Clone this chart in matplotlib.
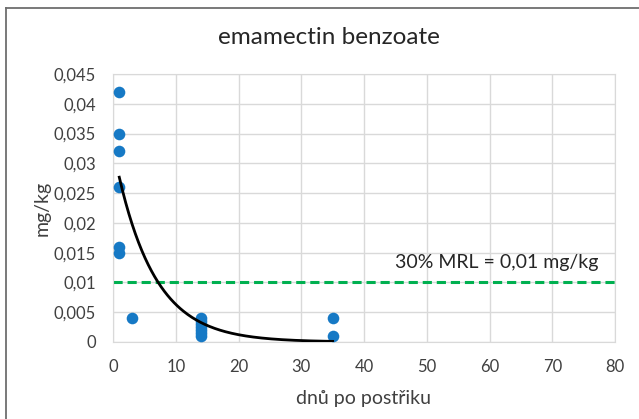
import numpy as np
import matplotlib
matplotlib.use("Agg")
import matplotlib.pyplot as plt
from matplotlib.lines import Line2D

plt.rcParams['font.family'] = ['Lato', 'DejaVu Sans']

# data
days = [1, 1, 1, 1, 1, 1, 3, 14, 14, 14, 14, 14, 14, 14, 35, 35]
residues = [0.042, 0.035, 0.032, 0.026, 0.016, 0.015, 0.004,
            0.004, 0.0035, 0.003, 0.0025, 0.002, 0.0015, 0.001,
            0.004, 0.001]
# exponential trend parameters (y = a * exp(-k x))
trend_a = 0.0326
trend_k = 0.164
trend_range = [1, 35]
mrl_limit = 0.01
mrl_label = "30% MRL = 0,01 mg/kg"
title = "emamectin benzoate"
xlabel = "dnů po postřiku"
ylabel = "mg/kg"
yticks = [0, 0.005, 0.01, 0.015, 0.02, 0.025, 0.03, 0.035, 0.04, 0.045]
ytick_labels = ["0", "0,005", "0,01", "0,015", "0,02", "0,025", "0,03", "0,035", "0,04", "0,045"]
xticks = [0, 10, 20, 30, 40, 50, 60, 70, 80]

fig = plt.figure(figsize=(6.39, 4.19), dpi=100)
ax = fig.add_axes([113/639, 1-342/419, (615-113)/639, (342-74)/419])

# outer chart border (left and top visible)
fig.lines.append(Line2D([5.5/639, 5.5/639], [0, 1-8/419], transform=fig.transFigure,
                        color='#6E6E6E', linewidth=1.3))
fig.lines.append(Line2D([5.5/639, 1], [1-8/419, 1-8/419], transform=fig.transFigure,
                        color='#6E6E6E', linewidth=1.3))

ax.set_xlim(0, 80)
ax.set_ylim(0, 0.045)
ax.set_xticks(xticks)
ax.set_yticks(yticks)
ax.set_yticklabels(ytick_labels)
ax.grid(True, color='#D9D9D9', linewidth=1.0)
ax.set_axisbelow(True)
for s in ax.spines.values():
    s.set_color('#D9D9D9')
ax.tick_params(length=0, labelsize=12, colors='#404040')
ax.tick_params(axis='y', pad=12.5)
ax.tick_params(axis='x', pad=12)

ax.scatter(days, residues, s=70, color='#1679C5', zorder=3, linewidths=0)

xt = np.linspace(trend_range[0], trend_range[1], 200)
ax.plot(xt, trend_a * np.exp(-trend_k * xt), color='black', linewidth=2, zorder=4)

ax.axhline(mrl_limit, color='#00B050', linestyle=(0, (3, 1.6)), linewidth=2.2, zorder=2)
ax.text(44.9, 0.0133, mrl_label, fontsize=14, color='#262626', va='center', ha='left')

fig.text(329/639, 1-38/419, title, fontsize=17.5, color='#262626', ha='center', va='center')
ax.set_xlabel(xlabel, fontsize=14, color='#404040', labelpad=11)
ax.set_ylabel(ylabel, fontsize=14, color='#404040', labelpad=2)

fig.savefig("out.png", dpi=100)
